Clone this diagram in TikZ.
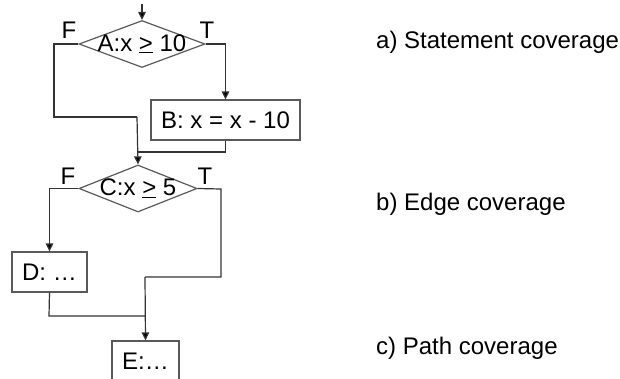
\documentclass[tikz,border=0pt]{standalone}
\usepackage{fontspec}
\setmainfont{Liberation Sans}
\usetikzlibrary{shapes.geometric,arrows.meta}
% "greater than or equal" drawn as > with a straight bar just below it
\newcommand{\gequnder}{\makebox[0pt][l]{\rule[-1.8pt]{0.584em}{1.2pt}}>}
\begin{document}
\begin{tikzpicture}[x=1pt,y=-1pt,
  txt/.style={font=\fontsize{24}{27}\selectfont, inner sep=0pt},
  dia/.style={diamond, draw=black!65, line width=1.2pt, minimum height=47pt, inner sep=0pt},
  stmt/.style={rectangle, draw=black!65, line width=1.2pt, minimum height=40pt, inner sep=0pt},
  flow/.style={draw=black!80, line width=1.2pt},
  arr/.style={flow, -{Triangle[length=8pt,width=7.5pt,fill=black]}}
]
\useasboundingbox (0,0) rectangle (620,378);
\clip (0,0) rectangle (620,378);

% decisions and statements
\node[dia, minimum width=126pt] (A) at (142,44) {};
\node[txt] (At) at (A.center) {A:x \gequnder{} 10};
\node[stmt, minimum width=149pt] (B) at (225.5,120) {};
\node[txt] (Bt) at (B.center) {B: x = x - 10};
\node[dia, minimum width=118pt] (C) at (138,188.5) {};
\node[txt] (Ct) at (C.center) {C:x \gequnder{} 5};
\node[stmt, minimum width=75pt] (D) at (49.5,272) {};
\node[txt] (Dt) at (D.center) {D: …};
\node[stmt, minimum width=67pt] (E) at (145.5,361) {};
\node[txt] (Et) at (E.center) {E:…};

% branch labels
\node[txt] (AF) at (69,30) {F};
\node[txt] (AT) at (207,30) {T};
\node[txt] (CF) at (68,176) {F};
\node[txt] (CT) at (205,176) {T};

% entry and routing points
\coordinate (in) at (142,4);
\coordinate (aL) at (54,44);
\coordinate (aLd) at (54,117);
\coordinate (aLj) at (137,117);
\coordinate (bj) at (137,152);
\coordinate (cR) at (221,189);
\coordinate (cRd) at (221,277);
\coordinate (ej) at (145,277);
\coordinate (dj) at (49,316);
\coordinate (dj2) at (145,316);

% connectors
\draw[arr] (in) -- (A.north);
\draw[flow] (A.west) -- (aL) -- (aLd) -- (aLj);
\draw[arr] (aLj) -- (C.north);
\draw[arr] (A.east) -| (B.north);
\draw[flow] (B.south) |- (bj);
\draw[arr] (C.west) -| (D.north);
\draw[flow] (C.east) -- (cR) -- (cRd) -- (ej);
\draw[arr] (ej) -- (E.north);
\draw[flow] (D.south) -- (dj) -- (dj2);

% coverage criteria
\node[txt, anchor=west] (ca) at (376,42) {a) Statement coverage};
\node[txt, anchor=west] (cb) at (376,204) {b) Edge coverage};
\node[txt, anchor=west] (cc) at (376,348) {c) Path coverage};
\end{tikzpicture}
\end{document}
